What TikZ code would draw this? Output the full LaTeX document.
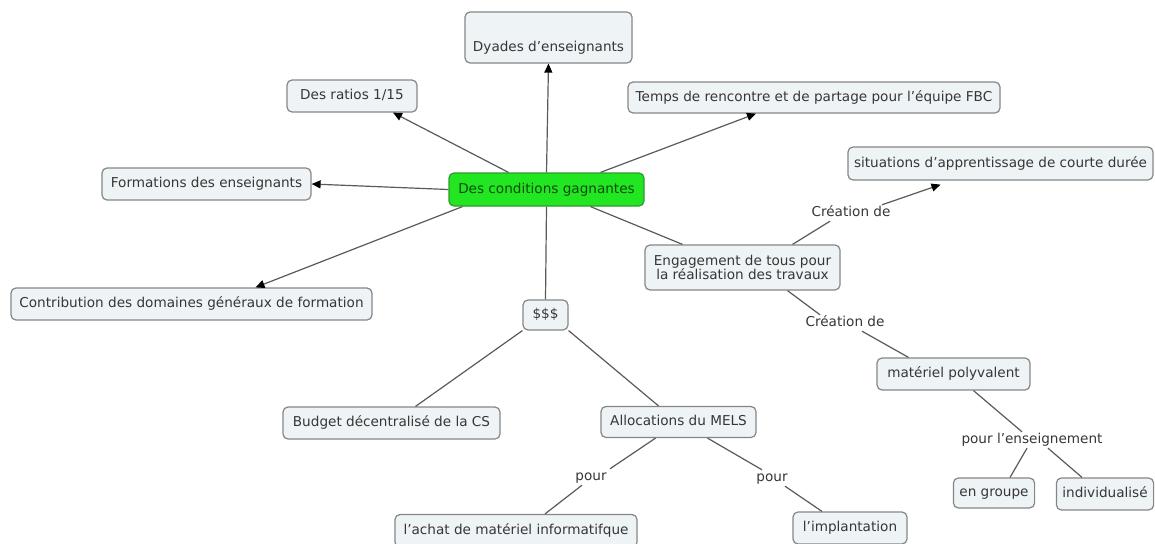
\documentclass[tikz,border=0pt]{standalone}
\usepackage{fontspec}
\setmainfont{DejaVu Sans}
\usetikzlibrary{arrows.meta}
\definecolor{boxfill}{HTML}{EEF3F6}
\definecolor{boxdraw}{HTML}{868686}
\definecolor{txt}{HTML}{363636}
\definecolor{lnk}{HTML}{5A5A5A}
\definecolor{gfill}{HTML}{22E622}
\definecolor{gdraw}{HTML}{2E9A2E}
\definecolor{gtxt}{HTML}{0E4A0E}
\tikzset{
  cbase/.style={draw=boxdraw, line width=1.2pt, rounded corners=5pt, fill=boxfill,
    text=txt, font=\fontsize{13.6}{16}\selectfont, inner xsep=6pt, inner ysep=0pt,
    minimum height=32pt, align=center},
  concept/.style={cbase, text height=10.3pt, text depth=2.7pt},
  mainc/.style={concept, fill=gfill, draw=gdraw, text=gtxt},
  linkph/.style={text=txt, font=\fontsize{13.6}{16}\selectfont, inner sep=1.5pt,
    text height=10.3pt, text depth=2.7pt},
  conn/.style={draw=lnk, line width=1.2pt},
  arr/.style={conn, -{Triangle[length=9pt,width=8pt,color=black]}}
}
\begin{document}
\begin{tikzpicture}[x=1pt,y=-1pt]
\path[use as bounding box, clip] (0,0) rectangle (1155,543);
\fill[white] (0,0) rectangle (1155,543);
% concepts
\node[concept, minimum width=167pt, minimum height=51pt, text height=32pt, text depth=3pt] (dyades) at (548.5,37.5) {Dyades d'enseignants};
\node[concept, minimum width=130pt] (ratios) at (352,96) {Des ratios 1/15};
\node[concept, minimum width=372pt, minimum height=31pt] (temps) at (814,97.5) {Temps de rencontre et de partage pour l'équipe FBC};
\node[concept, minimum width=209pt] (form) at (206.5,184) {Formations des enseignants};
\node[mainc, minimum width=195pt, minimum height=33pt] (ctr) at (546.5,189.5) {Des conditions gagnantes};
\node[concept, minimum width=305pt, minimum height=33pt] (sit) at (1000.5,163.5) {situations d'apprentissage de courte durée};
\node[cbase, minimum width=195pt, minimum height=45pt] (eng) at (742.5,267.5) {Engagement de tous pour\\[-2pt]la réalisation des travaux};
\node[concept, minimum width=361pt] (contrib) at (191.5,304) {Contribution des domaines généraux de formation};
\node[concept, minimum width=45pt, minimum height=30pt] (dollar) at (545.5,315) {\$\$\$};
\node[concept, minimum width=217pt, minimum height=32pt] (budget) at (391.5,423) {Budget décentralisé de la CS};
\node[concept, minimum width=155pt, minimum height=31pt] (alloc) at (678.5,422) {Allocations du MELS};
\node[concept, minimum width=242pt, minimum height=33pt] (achat) at (516,531) {l'achat de matériel informatifque};
\node[concept, minimum width=114pt] (impl) at (850,528) {l'implantation};
\node[concept, minimum width=153pt] (poly) at (953.5,374) {matériel polyvalent};
\node[concept, minimum width=78pt, minimum height=30pt] (groupe) at (994,493) {en groupe};
\node[concept, minimum width=96pt] (indiv) at (1105,494) {individualisé};
% linking phrases
\node[linkph] (cre1) at (851,213) {Création de};
\node[linkph] (cre2) at (845,323) {Création de};
\node[linkph] (pens) at (1032,440) {pour l'enseignement};
\node[linkph] (pour1) at (591,477) {pour};
\node[linkph] (pour2) at (772,478) {pour};
% connectors
\draw[arr] (ctr.north) -- (dyades.south);
\draw[arr] ([xshift=-38pt]ctr.north) -- ([xshift=41pt]ratios.south);
\draw[arr] ([xshift=54pt]ctr.north) -- ([xshift=-58pt]temps.south);
\draw[arr] (ctr.west) -- (form.east);
\draw[arr] ([xshift=-84pt]ctr.south) -- ([xshift=64pt]contrib.north);
\draw[conn] (ctr.south) -- (dollar.north);
\draw[conn] ([xshift=44pt]ctr.south) -- ([xshift=-60pt]eng.north);
\draw[conn] ([xshift=50pt]eng.north) -- ([xshift=-21pt]cre1.south);
\draw[arr] ([xshift=31pt]cre1.north) -- ([xshift=-60pt,yshift=-4pt]sit.south);
\draw[conn] ([xshift=45pt]eng.south) -- ([xshift=-25pt]cre2.north);
\draw[conn] ([xshift=17pt]cre2.south) -- ([xshift=-45pt]poly.north);
\draw[conn] ([xshift=20pt]poly.south) -- ([xshift=-10pt]pens.north);
\draw[conn] ([xshift=-5pt]pens.south) -- ([xshift=16pt]groupe.north);
\draw[conn] ([xshift=16pt]pens.south) -- ([xshift=-23pt]indiv.north);
\draw[conn] (dollar.south west) -- ([xshift=24pt]budget.north);
\draw[conn] (dollar.south east) -- ([xshift=-20pt]alloc.north);
\draw[conn] ([xshift=-23pt]alloc.south) -- ([xshift=19pt]pour1.north);
\draw[conn] ([xshift=-9pt]pour1.south) -- ([xshift=29pt]achat.north);
\draw[conn] ([xshift=29pt]alloc.south) -- ([xshift=-10pt]pour2.north);
\draw[conn] ([xshift=13pt]pour2.south) -- ([xshift=-28pt]impl.north);
\end{tikzpicture}
\end{document}
